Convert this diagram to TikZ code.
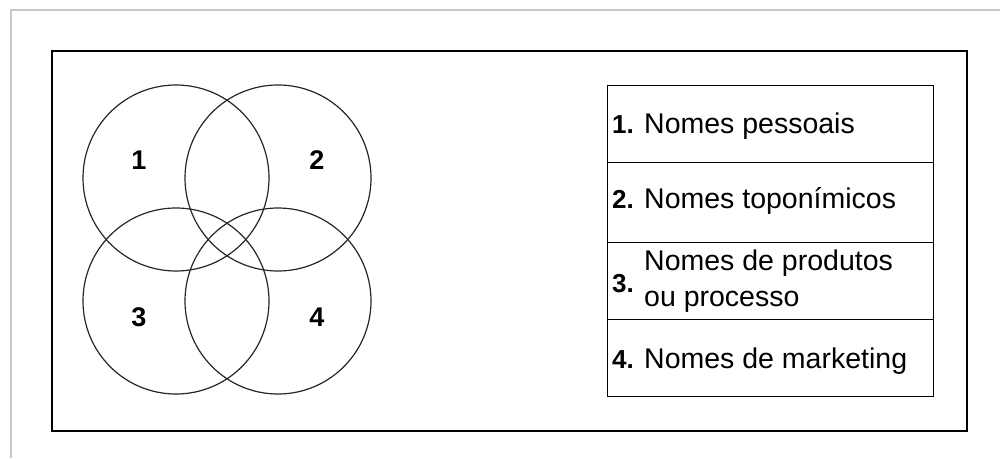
\documentclass[tikz,border=0pt]{standalone}
\usepackage{fontspec}
\setmainfont{Liberation Sans}
\begin{document}
\begin{tikzpicture}[x=1pt,y=-1pt,
  ring/.style={circle,draw=black!85,line width=1.2pt,minimum size=186pt,inner sep=0pt},
  num/.style={font=\fontsize{27}{27}\selectfont\bfseries,inner sep=0pt},
  row/.style={draw,line width=1.4pt,minimum width=326pt,inner sep=0pt,anchor=north west},
  idx/.style={font=\fontsize{26}{26}\selectfont\bfseries,anchor=base west,inner sep=0pt},
  lbl/.style={font=\fontsize{28.5}{28.5}\selectfont,anchor=base west,inner sep=0pt}]
\useasboundingbox (0,0) rectangle (1000,458);
% page edge
\draw[black!22,line width=1.5pt] (11,458) -- (11,10) -- (1000,10);
% outer box
\node[draw,line width=1.5pt,minimum width=915pt,minimum height=380pt,
      anchor=north west,inner sep=0pt] (frame) at (51,50) {};
% four overlapping circles
\node[ring] (c1) at (176,178) {};
\node[ring] (c2) at (278,178) {};
\node[ring] (c3) at (176,301) {};
\node[ring] (c4) at (278,301) {};
\node[num] (n1) at (139,160) {1};
\node[num] (n2) at (317,160) {2};
\node[num] (n3) at (139,317) {3};
\node[num] (n4) at (317,317) {4};
% legend table
\node[row,minimum height=77pt] (r1) at (607,85) {};
\node[row,minimum height=80pt] (r2) at (607,162) {};
\node[row,minimum height=77pt] (r3) at (607,242) {};
\node[row,minimum height=77pt] (r4) at (607,319) {};
\node[idx] (i1) at (612,133) {1.};
\node[lbl] (t1) at (644,133) {Nomes pessoais};
\node[idx] (i2) at (612,208) {2.};
\node[lbl] (t2) at (644,208) {Nomes toponímicos};
\node[idx] (i3) at (612,292) {3.};
\node[lbl] (t3a) at (644,270) {Nomes de produtos};
\node[lbl] (t3b) at (644,306) {ou processo};
\node[idx] (i4) at (612,368) {4.};
\node[lbl] (t4) at (644,368) {Nomes de marketing};
\end{tikzpicture}
\end{document}
